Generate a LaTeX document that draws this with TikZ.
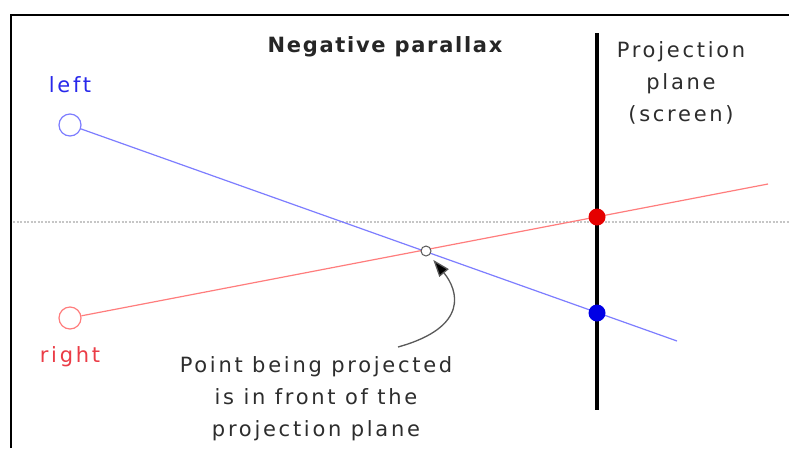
\documentclass[tikz,border=0pt]{standalone}
\usepackage{fontspec}
\setmainfont{DejaVu Sans}[LetterSpace=13]
\usetikzlibrary{arrows.meta,positioning,calc}
\definecolor{eyeblue}{RGB}{40,40,235}
\definecolor{eyered}{RGB}{235,60,70}
\definecolor{rayblue}{RGB}{125,125,255}
\definecolor{rayred}{RGB}{255,125,125}
\definecolor{inkgray}{RGB}{45,45,45}
\tikzset{
  eye/.style={circle, draw, line width=1.2pt, minimum size=22pt, inner sep=0pt},
  hit/.style={circle, fill, minimum size=17pt, inner sep=0pt},
  ray/.style={line width=1.2pt},
  txt/.style={font=\fontsize{21}{32}\selectfont, text=inkgray, align=center}
}
\begin{document}
\begin{tikzpicture}[x=1pt,y=-1pt]
                    \useasboundingbox (0,0) rectangle (789,448);
                    \fill[white] (0,0) rectangle (789,448);
                    % frame, cut off at right and bottom
                    \draw [line width=2.5pt] (11,448) -- (11,15) -- (789,15);
                    \draw [gray!45, line width=1.5pt, dash pattern=on 2pt off 1.5pt] (13,222) -- (789,222);
                    % screen
                    \coordinate (Ptop) at (597,33);
                    \coordinate (Pbot) at (597,410);
                    \draw [line width=3.5pt] (Ptop) -- (Pbot);
                    % eyes and rays
                    \node [eye, draw=rayblue, label={[txt, text=eyeblue, yshift=17pt]above:left}] (L) at (70,125) {};
                    \node [eye, draw=rayred, label={[txt, text=eyered, yshift=-13pt]below:right}] (R) at (70,318) {};
                    \coordinate (Lend) at (677,341);
                    \coordinate (Rend) at (768,184);
                    \draw [ray, rayblue] (L) -- (Lend);
                    \draw [ray, rayred] (R) -- (Rend);
                    \node [hit, fill=red!90!black] (Rs) at (597,217) {};
                    \node [hit, fill=blue!90!black] (Ls) at (597,313) {};
                    \node [circle, draw=gray!70!black, fill=white, line width=1pt, minimum size=10pt, inner sep=0pt] (P) at (426,251) {};
                    % texts
                    \node [txt, font=\bfseries\fontsize{21}{32}\selectfont\addfontfeature{LetterSpace=8}, text=black!85] (title) at (385,47) {Negative parallax};
                    \node [txt] (plane) at (681,83) {Projection\\plane\\(screen)};
                    \node [txt] (note) at (316,399) {Point being projected\\is in front of the\\projection plane};
                    \coordinate (Nstart) at (398,347);
                    \draw [gray!70!black, line width=1.3pt, -{Triangle[length=17pt,width=12pt,fill=black]}, shorten >=6pt]
                      (Nstart) .. controls (470,327) and (458,290) .. (P);
                \end{tikzpicture}
\end{document}
